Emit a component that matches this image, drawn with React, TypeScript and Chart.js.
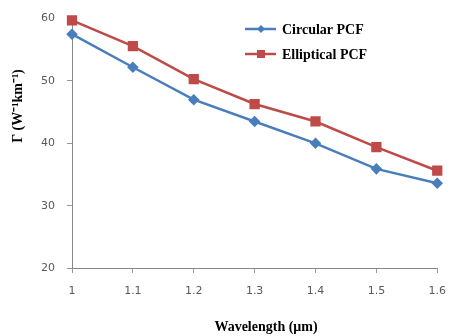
import React, { useEffect, useRef } from "react";
import { Chart, registerables } from "chart.js";

Chart.register(...registerables);

const wavelengths = ["1", "1.1", "1.2", "1.3", "1.4", "1.5", "1.6"];
const circularPCF = [57.5, 52.2, 47.0, 43.5, 40.0, 35.9, 33.6];
const ellipticalPCF = [59.7, 55.6, 50.3, 46.3, 43.5, 39.4, 35.6];
const yTicks = [20, 30, 40, 50, 60];
const xTitle = "Wavelength (\u03bcm)";
const yTitle = "\u0393 (W\u207b\u00b9km\u207b\u00b9)";

const BLUE = "#4A7EBB";
const RED = "#BE4B48";

const overlayPlugin = {
  id: "overlay",
  afterDraw(chart: any) {
    const ctx = chart.ctx;
    const items = chart.data.datasets;
    ctx.save();
    items.forEach((ds: any, i: number) => {
      const y = 29 + i * 25;
      const x0 = 245;
      const x1 = 276;
      ctx.strokeStyle = ds.borderColor;
      ctx.lineWidth = 2.5;
      ctx.beginPath();
      ctx.moveTo(x0, y);
      ctx.lineTo(x1, y);
      ctx.stroke();
      ctx.fillStyle = ds.pointBackgroundColor;
      const cx = 261;
      if (ds.pointStyle === "rect") {
        ctx.fillRect(cx - 4, y - 4, 8, 8);
      } else {
        ctx.beginPath();
        ctx.moveTo(cx, y - 4);
        ctx.lineTo(cx + 4, y);
        ctx.lineTo(cx, y + 4);
        ctx.lineTo(cx - 4, y);
        ctx.closePath();
        ctx.fill();
      }
      ctx.fillStyle = "#000";
      ctx.font = "bold 14px 'Liberation Serif'";
      ctx.textBaseline = "middle";
      ctx.textAlign = "left";
      ctx.fillText(ds.label, 282, y + 1);
    });
    // axis titles
    ctx.fillStyle = "#000";
    ctx.font = "bold 14px 'Liberation Serif'";
    ctx.textAlign = "center";
    ctx.textBaseline = "middle";
    ctx.fillText(xTitle, 266, 327);
    ctx.translate(18, 106);
    ctx.rotate(-Math.PI / 2);
    ctx.fillText(yTitle, 0, 0);
    ctx.restore();
  },
};

export default function App() {
  const ref = useRef<HTMLCanvasElement | null>(null);
  useEffect(() => {
    if (!ref.current) return;
    const chart = new Chart(ref.current, {
      type: "line",
      data: {
        labels: wavelengths,
        datasets: [
          {
            label: "Circular PCF",
            data: circularPCF,
            borderColor: BLUE,
            backgroundColor: BLUE,
            pointBackgroundColor: BLUE,
            pointBorderColor: BLUE,
            pointStyle: "rectRot",
            pointRadius: 4,
            borderWidth: 2.5,
            tension: 0,
            clip: false,
          },
          {
            label: "Elliptical PCF",
            data: ellipticalPCF,
            borderColor: RED,
            backgroundColor: RED,
            pointBackgroundColor: RED,
            pointBorderColor: RED,
            pointStyle: "rect",
            pointRadius: 5.5,
            borderWidth: 2.5,
            tension: 0,
            clip: false,
          },
        ],
      },
      options: {
        responsive: false,
        animation: false,
        layout: { padding: { top: 16, right: 9, left: 0, bottom: 0 } },
        plugins: {
          legend: { display: false },
          tooltip: { enabled: false },
        },
        scales: {
          x: {
            type: "category",
            offset: false,
            grid: {
              display: true,
              drawOnChartArea: false,
              drawTicks: true,
              tickLength: 5,
              color: "#999",
            },
            border: { display: true, color: "#888", width: 1 },
            ticks: {
              color: "#595959",
              font: { size: 11, family: "'DejaVu Sans'" },
              padding: 12,
              maxRotation: 0,
            },
            title: { display: false },
            afterFit(scale: any) {
              scale.height = 68;
            },
          },
          y: {
            min: 20,
            max: 60,
            afterBuildTicks(scale: any) {
              scale.ticks = yTicks.map((v) => ({ value: v }));
            },
            grid: {
              display: true,
              drawOnChartArea: false,
              drawTicks: true,
              tickLength: 5,
              color: "#999",
            },
            border: { display: true, color: "#888", width: 1 },
            ticks: {
              color: "#595959",
              font: { size: 11, family: "'DejaVu Sans'" },
              padding: 12,
            },
            title: { display: false },
            afterFit(scale: any) {
              scale.width = 72;
            },
          },
        },
      },
      plugins: [overlayPlugin],
    });
    return () => chart.destroy();
  }, []);
  return (
    <div style={{ position: "fixed", left: 0, top: 0, width: 458, height: 336, background: "#fff" }}>
      <canvas ref={ref} width={458} height={336} style={{ width: 458, height: 336 }} />
    </div>
  );
}
